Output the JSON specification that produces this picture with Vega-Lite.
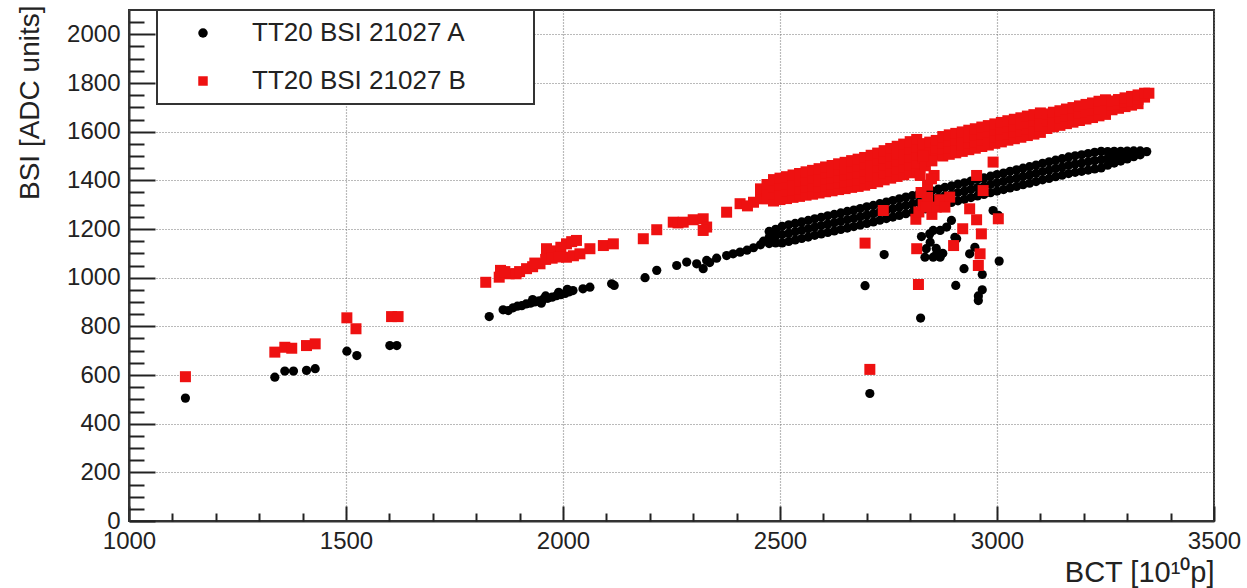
{
"$schema":"https://vega.github.io/schema/vega-lite/v6.json",
"width":1085,"height":511,"autosize":"none",
"padding":{"left":129,"top":10,"right":33,"bottom":67},
"background":"white",
"config":{"view":{"stroke":"#333","strokeWidth":2},"font":"Liberation Sans"},
"datasets":{
"a":[
{"x":1130,"y":505},{"x":1336,"y":591},{"x":1359,"y":616},{"x":1379,"y":616},{"x":1409,"y":619},{"x":1429,"y":626},
{"x":1502,"y":698},{"x":1525,"y":680},{"x":1601,"y":721},{"x":1617,"y":721},
{"x":1830,"y":840},{"x":1862,"y":868},{"x":1874,"y":865},
{"x":1885,"y":876},{"x":1895,"y":883},{"x":1905,"y":885},{"x":1915,"y":892},{"x":1925,"y":895},{"x":1935,"y":900},{"x":1945,"y":905},{"x":1955,"y":912},{"x":1965,"y":915},{"x":1975,"y":920},{"x":1985,"y":926},{"x":1995,"y":930},{"x":2005,"y":935},{"x":2015,"y":942},{"x":2023,"y":947},{"x":1930,"y":910},{"x":1960,"y":925},{"x":1990,"y":940},{"x":2010,"y":952},{"x":1950,"y":895},
{"x":2046,"y":954},{"x":2062,"y":961},{"x":2112,"y":975},{"x":2118,"y":968},{"x":2189,"y":1000},{"x":2216,"y":1030},{"x":2262,"y":1050},{"x":2285,"y":1064},{"x":2308,"y":1057},{"x":2323,"y":1037},{"x":2331,"y":1071},{"x":2338,"y":1062},
{"x":2354,"y":1080},{"x":2377,"y":1091},{"x":2392,"y":1098},{"x":2408,"y":1105},{"x":2424,"y":1113},{"x":2439,"y":1123},{"x":2455,"y":1135},{"x":2462,"y":1150},
{"x":2475,"y":1140},{"x":2475,"y":1165},{"x":2475,"y":1190},
{"x":2490,"y":1143},{"x":2490,"y":1171},{"x":2490,"y":1199},
{"x":2505,"y":1143},{"x":2505,"y":1177},{"x":2505,"y":1211},
{"x":2520,"y":1149},{"x":2520,"y":1183},{"x":2520,"y":1217},
{"x":2535,"y":1155},{"x":2535,"y":1189},{"x":2535,"y":1223},
{"x":2550,"y":1161},{"x":2550,"y":1195},{"x":2550,"y":1229},
{"x":2565,"y":1167},{"x":2565,"y":1201},{"x":2565,"y":1235},
{"x":2580,"y":1174},{"x":2580,"y":1208},{"x":2580,"y":1242},
{"x":2595,"y":1180},{"x":2595,"y":1214},{"x":2595,"y":1248},
{"x":2610,"y":1186},{"x":2610,"y":1220},{"x":2610,"y":1254},
{"x":2625,"y":1192},{"x":2625,"y":1226},{"x":2625,"y":1260},
{"x":2640,"y":1198},{"x":2640,"y":1232},{"x":2640,"y":1266},
{"x":2655,"y":1204},{"x":2655,"y":1238},{"x":2655,"y":1272},
{"x":2670,"y":1210},{"x":2670,"y":1244},{"x":2670,"y":1278},
{"x":2685,"y":1216},{"x":2685,"y":1250},{"x":2685,"y":1284},
{"x":2700,"y":1223},{"x":2700,"y":1257},{"x":2700,"y":1291},
{"x":2715,"y":1229},{"x":2715,"y":1263},{"x":2715,"y":1297},
{"x":2730,"y":1236},{"x":2730,"y":1270},{"x":2730,"y":1304},
{"x":2745,"y":1243},{"x":2745,"y":1277},{"x":2745,"y":1311},
{"x":2760,"y":1249},{"x":2760,"y":1283},{"x":2760,"y":1317},
{"x":2775,"y":1256},{"x":2775,"y":1290},{"x":2775,"y":1324},
{"x":2790,"y":1263},{"x":2790,"y":1297},{"x":2790,"y":1331},
{"x":2805,"y":1269},{"x":2805,"y":1303},{"x":2805,"y":1337},
{"x":2820,"y":1276},{"x":2820,"y":1310},{"x":2820,"y":1344},
{"x":2835,"y":1283},{"x":2835,"y":1317},{"x":2835,"y":1351},
{"x":2850,"y":1289},{"x":2850,"y":1323},{"x":2850,"y":1357},
{"x":2865,"y":1296},{"x":2865,"y":1330},{"x":2865,"y":1364},
{"x":2880,"y":1303},{"x":2880,"y":1337},{"x":2880,"y":1371},
{"x":2895,"y":1309},{"x":2895,"y":1343},{"x":2895,"y":1377},
{"x":2910,"y":1316},{"x":2910,"y":1350},{"x":2910,"y":1384},
{"x":2925,"y":1322},{"x":2925,"y":1356},{"x":2925,"y":1390},
{"x":2940,"y":1329},{"x":2940,"y":1363},{"x":2940,"y":1397},
{"x":2955,"y":1336},{"x":2955,"y":1370},{"x":2955,"y":1404},
{"x":2970,"y":1342},{"x":2970,"y":1376},{"x":2970,"y":1410},
{"x":2985,"y":1349},{"x":2985,"y":1383},{"x":2985,"y":1417},
{"x":3000,"y":1356},{"x":3000,"y":1390},{"x":3000,"y":1424},
{"x":3015,"y":1362},{"x":3015,"y":1396},{"x":3015,"y":1430},
{"x":3030,"y":1369},{"x":3030,"y":1403},{"x":3030,"y":1437},
{"x":3045,"y":1375},{"x":3045,"y":1409},{"x":3045,"y":1443},
{"x":3060,"y":1382},{"x":3060,"y":1416},{"x":3060,"y":1450},
{"x":3075,"y":1388},{"x":3075,"y":1422},{"x":3075,"y":1456},
{"x":3090,"y":1395},{"x":3090,"y":1429},{"x":3090,"y":1463},
{"x":3105,"y":1402},{"x":3105,"y":1436},{"x":3105,"y":1470},
{"x":3120,"y":1408},{"x":3120,"y":1442},{"x":3120,"y":1476},
{"x":3135,"y":1415},{"x":3135,"y":1449},{"x":3135,"y":1483},
{"x":3150,"y":1421},{"x":3150,"y":1455},{"x":3150,"y":1489},
{"x":3165,"y":1428},{"x":3165,"y":1462},{"x":3165,"y":1496},
{"x":3180,"y":1433},{"x":3180,"y":1467},{"x":3180,"y":1501},
{"x":3195,"y":1437},{"x":3195,"y":1471},{"x":3195,"y":1505},
{"x":3210,"y":1442},{"x":3210,"y":1476},{"x":3210,"y":1510},
{"x":3225,"y":1447},{"x":3225,"y":1481},{"x":3225,"y":1515},
{"x":3240,"y":1451},{"x":3240,"y":1485},{"x":3240,"y":1519},
{"x":3255,"y":1462},{"x":3255,"y":1490},{"x":3255,"y":1518},
{"x":3270,"y":1471},{"x":3270,"y":1495},{"x":3270,"y":1519},
{"x":3285,"y":1479},{"x":3285,"y":1499},{"x":3285,"y":1519},
{"x":3300,"y":1488},{"x":3300,"y":1504},{"x":3300,"y":1520},
{"x":3315,"y":1497},{"x":3315,"y":1509},{"x":3315,"y":1521},
{"x":3330,"y":1505},{"x":3330,"y":1521},
{"x":3345,"y":1518},
{"x":2696,"y":967},{"x":2740,"y":1095},{"x":2707,"y":524},{"x":2824,"y":834},{"x":2905,"y":968},{"x":2924,"y":1037},{"x":2966,"y":950},{"x":2957,"y":906},{"x":3005,"y":1068},{"x":2966,"y":1013},{"x":2937,"y":1098},{"x":2853,"y":1194},{"x":2826,"y":1169},{"x":2837,"y":1119},{"x":2853,"y":1084},{"x":2884,"y":1208},{"x":2907,"y":1160},{"x":2991,"y":1276},{"x":3003,"y":1256},{"x":2869,"y":1084},{"x":2846,"y":1146},{"x":2861,"y":1098},{"x":2869,"y":1194},{"x":2903,"y":1166},{"x":2949,"y":1125},{"x":2834,"y":1084},{"x":2845,"y":1180},{"x":2860,"y":1120},{"x":2875,"y":1100},{"x":2895,"y":1235},{"x":2957,"y":925}
],
"b":[
{"x":1130,"y":593},{"x":1336,"y":694},{"x":1359,"y":714},{"x":1375,"y":710},{"x":1409,"y":721},{"x":1429,"y":728},
{"x":1502,"y":835},{"x":1523,"y":790},{"x":1605,"y":840},{"x":1620,"y":840},
{"x":1822,"y":981},{"x":1856,"y":1030},{"x":1876,"y":1016},{"x":1892,"y":1016},{"x":1853,"y":1002},{"x":1866,"y":1025},{"x":1900,"y":1025},{"x":1916,"y":1037},{"x":1930,"y":1045},{"x":1947,"y":1057},{"x":1962,"y":1119},{"x":1975,"y":1110},{"x":1985,"y":1105},{"x":1995,"y":1125},{"x":2008,"y":1139},{"x":2020,"y":1148},{"x":2031,"y":1153},{"x":1935,"y":1060},{"x":1960,"y":1075},{"x":1975,"y":1080},{"x":1990,"y":1085},{"x":2008,"y":1084},{"x":2024,"y":1090},{"x":2039,"y":1098},{"x":2062,"y":1119},{"x":2093,"y":1132},{"x":2116,"y":1139},{"x":2185,"y":1160},{"x":2216,"y":1197},{"x":2254,"y":1228},{"x":2265,"y":1225},{"x":2277,"y":1228},{"x":2300,"y":1238},{"x":2323,"y":1242},{"x":2331,"y":1208},{"x":2323,"y":1194},{"x":2377,"y":1269},{"x":2408,"y":1304},{"x":2439,"y":1310},{"x":2425,"y":1295},{"x":2462,"y":1324},
{"x":2455,"y":1330},{"x":2455,"y":1365},
{"x":2470,"y":1325},{"x":2470,"y":1354},{"x":2470,"y":1383},
{"x":2485,"y":1315},{"x":2485,"y":1344},{"x":2485,"y":1374},{"x":2485,"y":1403},
{"x":2500,"y":1321},{"x":2500,"y":1350},{"x":2500,"y":1380},{"x":2500,"y":1409},
{"x":2515,"y":1325},{"x":2515,"y":1355},{"x":2515,"y":1385},{"x":2515,"y":1415},
{"x":2530,"y":1330},{"x":2530,"y":1361},{"x":2530,"y":1391},{"x":2530,"y":1422},
{"x":2545,"y":1334},{"x":2545,"y":1365},{"x":2545,"y":1397},{"x":2545,"y":1428},
{"x":2560,"y":1339},{"x":2560,"y":1371},{"x":2560,"y":1403},{"x":2560,"y":1435},
{"x":2575,"y":1343},{"x":2575,"y":1376},{"x":2575,"y":1408},{"x":2575,"y":1441},
{"x":2590,"y":1348},{"x":2590,"y":1373},{"x":2590,"y":1398},{"x":2590,"y":1423},{"x":2590,"y":1448},
{"x":2605,"y":1353},{"x":2605,"y":1378},{"x":2605,"y":1404},{"x":2605,"y":1430},{"x":2605,"y":1455},
{"x":2620,"y":1357},{"x":2620,"y":1383},{"x":2620,"y":1409},{"x":2620,"y":1435},{"x":2620,"y":1461},
{"x":2635,"y":1362},{"x":2635,"y":1388},{"x":2635,"y":1415},{"x":2635,"y":1442},{"x":2635,"y":1468},
{"x":2650,"y":1366},{"x":2650,"y":1393},{"x":2650,"y":1420},{"x":2650,"y":1447},{"x":2650,"y":1474},
{"x":2665,"y":1371},{"x":2665,"y":1398},{"x":2665,"y":1426},{"x":2665,"y":1454},{"x":2665,"y":1481},
{"x":2680,"y":1375},{"x":2680,"y":1403},{"x":2680,"y":1431},{"x":2680,"y":1459},{"x":2680,"y":1487},
{"x":2695,"y":1380},{"x":2695,"y":1408},{"x":2695,"y":1437},{"x":2695,"y":1466},{"x":2695,"y":1494},
{"x":2710,"y":1387},{"x":2710,"y":1416},{"x":2710,"y":1445},{"x":2710,"y":1474},{"x":2710,"y":1503},
{"x":2725,"y":1394},{"x":2725,"y":1423},{"x":2725,"y":1453},{"x":2725,"y":1483},{"x":2725,"y":1512},
{"x":2740,"y":1402},{"x":2740,"y":1432},{"x":2740,"y":1462},{"x":2740,"y":1492},{"x":2740,"y":1522},
{"x":2755,"y":1409},{"x":2755,"y":1439},{"x":2755,"y":1470},{"x":2755,"y":1500},{"x":2755,"y":1531},
{"x":2770,"y":1416},{"x":2770,"y":1447},{"x":2770,"y":1478},{"x":2770,"y":1509},{"x":2770,"y":1540},
{"x":2785,"y":1423},{"x":2785,"y":1454},{"x":2785,"y":1486},{"x":2785,"y":1518},{"x":2785,"y":1549},
{"x":2800,"y":1431},{"x":2800,"y":1463},{"x":2800,"y":1495},{"x":2800,"y":1527},{"x":2800,"y":1559},
{"x":2815,"y":1438},{"x":2815,"y":1470},{"x":2815,"y":1503},{"x":2815,"y":1536},{"x":2815,"y":1568},
{"x":2830,"y":1491},{"x":2830,"y":1521},{"x":2830,"y":1551},
{"x":2845,"y":1497},{"x":2845,"y":1527},{"x":2845,"y":1557},
{"x":2860,"y":1504},{"x":2860,"y":1534},{"x":2860,"y":1564},
{"x":2875,"y":1500},{"x":2875,"y":1527},{"x":2875,"y":1553},{"x":2875,"y":1580},
{"x":2890,"y":1507},{"x":2890,"y":1534},{"x":2890,"y":1560},{"x":2890,"y":1587},
{"x":2905,"y":1513},{"x":2905,"y":1540},{"x":2905,"y":1566},{"x":2905,"y":1593},
{"x":2920,"y":1519},{"x":2920,"y":1546},{"x":2920,"y":1572},{"x":2920,"y":1599},
{"x":2935,"y":1526},{"x":2935,"y":1553},{"x":2935,"y":1579},{"x":2935,"y":1606},
{"x":2950,"y":1532},{"x":2950,"y":1559},{"x":2950,"y":1585},{"x":2950,"y":1612},
{"x":2965,"y":1539},{"x":2965,"y":1566},{"x":2965,"y":1592},{"x":2965,"y":1619},
{"x":2980,"y":1545},{"x":2980,"y":1572},{"x":2980,"y":1598},{"x":2980,"y":1625},
{"x":2995,"y":1552},{"x":2995,"y":1579},{"x":2995,"y":1605},{"x":2995,"y":1632},
{"x":3010,"y":1558},{"x":3010,"y":1585},{"x":3010,"y":1611},{"x":3010,"y":1638},
{"x":3025,"y":1565},{"x":3025,"y":1592},{"x":3025,"y":1618},{"x":3025,"y":1645},
{"x":3040,"y":1571},{"x":3040,"y":1598},{"x":3040,"y":1624},{"x":3040,"y":1651},
{"x":3055,"y":1577},{"x":3055,"y":1604},{"x":3055,"y":1630},{"x":3055,"y":1657},
{"x":3070,"y":1584},{"x":3070,"y":1611},{"x":3070,"y":1637},{"x":3070,"y":1664},
{"x":3085,"y":1590},{"x":3085,"y":1617},{"x":3085,"y":1643},{"x":3085,"y":1670},
{"x":3100,"y":1597},{"x":3100,"y":1624},{"x":3100,"y":1650},{"x":3100,"y":1677},
{"x":3115,"y":1613},{"x":3115,"y":1643},{"x":3115,"y":1673},
{"x":3130,"y":1620},{"x":3130,"y":1650},{"x":3130,"y":1680},
{"x":3145,"y":1626},{"x":3145,"y":1656},{"x":3145,"y":1686},
{"x":3160,"y":1633},{"x":3160,"y":1663},{"x":3160,"y":1693},
{"x":3175,"y":1639},{"x":3175,"y":1669},{"x":3175,"y":1699},
{"x":3190,"y":1646},{"x":3190,"y":1676},{"x":3190,"y":1706},
{"x":3205,"y":1652},{"x":3205,"y":1682},{"x":3205,"y":1712},
{"x":3220,"y":1658},{"x":3220,"y":1688},{"x":3220,"y":1718},
{"x":3235,"y":1665},{"x":3235,"y":1695},{"x":3235,"y":1725},
{"x":3250,"y":1671},{"x":3250,"y":1701},{"x":3250,"y":1731},
{"x":3265,"y":1690},{"x":3265,"y":1708},{"x":3265,"y":1726},
{"x":3280,"y":1696},{"x":3280,"y":1714},{"x":3280,"y":1732},
{"x":3295,"y":1703},{"x":3295,"y":1721},{"x":3295,"y":1739},
{"x":3310,"y":1709},{"x":3310,"y":1727},{"x":3310,"y":1745},
{"x":3325,"y":1715},{"x":3325,"y":1733},{"x":3325,"y":1751},
{"x":3340,"y":1742},{"x":3340,"y":1758},{"x":3350,"y":1758},
{"x":2813,"y":1240},{"x":2820,"y":1270},{"x":2830,"y":1300},{"x":2840,"y":1330},{"x":2850,"y":1260},{"x":2860,"y":1290},{"x":2868,"y":1320},{"x":2825,"y":1350},{"x":2840,"y":1380},{"x":2855,"y":1420},{"x":2823,"y":1420},{"x":2849,"y":1406},{"x":2835,"y":1460},{"x":2850,"y":1480},{"x":2830,"y":1500},
{"x":2738,"y":1276},{"x":2696,"y":1142},{"x":2819,"y":972},{"x":2815,"y":1119},{"x":2900,"y":1132},{"x":2921,"y":1201},{"x":2953,"y":1238},{"x":2964,"y":1180},{"x":2961,"y":1098},{"x":2957,"y":1050},{"x":3003,"y":1242},{"x":2968,"y":1358},{"x":2953,"y":1420},{"x":2991,"y":1475},{"x":2837,"y":1290},{"x":2891,"y":1331},{"x":2937,"y":1283},{"x":2707,"y":623},{"x":2880,"y":1290}
]
},
"layer":[
{"data":{"name":"a"},
 "mark":{"type":"point","filled":true,"size":85,"opacity":1,"strokeWidth":0},
 "encoding":{
  "x":{"field":"x","type":"quantitative","scale":{"domain":[1000,3500],"nice":false,"zero":false},
    "axis":{"orient":"bottom","values":[1000,1500,2000,2500,3000,3500],"format":"d","title":"BCT [10¹⁰p]","grid":true,"gridColor":"#777","gridDash":[1,2],"gridWidth":1.2,"domainColor":"#333","domainWidth":2,"tickColor":"#222","tickWidth":2,"tickSize":-15,"labelFontSize":24,"labelColor":"#222","labelPadding":23,"labelFlush":false,"labelOverlap":false,"titleFontSize":29,"titleFontWeight":"normal","titleColor":"#222","titleAnchor":"end","titleAlign":"right","titleBaseline":"alphabetic","titleX":1085,"titleY":60}},
  "y":{"field":"y","type":"quantitative","scale":{"domain":[0,2100],"nice":false,"zero":false},
    "axis":{"orient":"left","values":[0,200,400,600,800,1000,1200,1400,1600,1800,2000],"format":"d","title":"BSI [ADC units]","grid":true,"gridColor":"#777","gridDash":[1,2],"gridWidth":1.2,"domainColor":"#333","domainWidth":2,"tickColor":"#222","tickWidth":2,"tickSize":-26,"labelFontSize":24,"labelColor":"#222","labelPadding":35,"labelFlush":false,"labelOverlap":false,"titleFontSize":28,"titleFontWeight":"normal","titleColor":"#222","titleAngle":270,"titleAlign":"right","titleBaseline":"middle","titleX":-99,"titleY":-5}},
  "color":{"datum":"TT20 BSI 21027 A","type":"nominal","scale":{"domain":["TT20 BSI 21027 A","TT20 BSI 21027 B"],"range":["#000000","#ee1111"]},
    "legend":{"title":null,"orient":"none","legendX":28,"legendY":0,"padding":10,"rowPadding":22,"symbolOffset":23,"labelOffset":36,"labelFontSize":26,"labelColor":"#222","labelLimit":600,"symbolSize":90,"symbolOpacity":1,"symbolStrokeWidth":0,"strokeColor":"#333","fillColor":"white","labelExpr":"datum.label + '\u00a0\u00a0\u00a0\u00a0\u00a0\u00a0\u00a0\u00a0\u200b'","encode":{"legend":{"update":{"strokeWidth":{"value":2}}}}}},
  "shape":{"datum":"TT20 BSI 21027 A","type":"nominal","scale":{"domain":["TT20 BSI 21027 A","TT20 BSI 21027 B"],"range":["circle","square"]},
    "legend":{"title":null,"orient":"none","legendX":28,"legendY":0,"padding":10,"rowPadding":22,"symbolOffset":23,"labelOffset":36,"labelFontSize":26,"labelColor":"#222","labelLimit":600,"symbolSize":90,"symbolOpacity":1,"symbolStrokeWidth":0,"strokeColor":"#333","fillColor":"white","labelExpr":"datum.label + '\u00a0\u00a0\u00a0\u00a0\u00a0\u00a0\u00a0\u00a0\u200b'","encode":{"legend":{"update":{"strokeWidth":{"value":2}}}}}}
 }},
{"data":{"name":"b"},
 "mark":{"type":"point","filled":true,"size":121,"opacity":1,"strokeWidth":0},
 "encoding":{
  "x":{"field":"x","type":"quantitative",
    "axis":{"orient":"bottom","values":[1100,1200,1300,1400,1600,1700,1800,1900,2100,2200,2300,2400,2600,2700,2800,2900,3100,3200,3300,3400],"title":null,"labels":false,"grid":false,"domain":false,"tickColor":"#222","tickWidth":2,"tickSize":-8}},
  "y":{"field":"y","type":"quantitative",
    "axis":{"orient":"left","values":[50,100,150,250,300,350,450,500,550,650,700,750,850,900,950,1050,1100,1150,1250,1300,1350,1450,1500,1550,1650,1700,1750,1850,1900,1950,2050],"title":null,"labels":false,"grid":false,"domain":false,"tickColor":"#222","tickWidth":2,"tickSize":-15}},
  "color":{"datum":"TT20 BSI 21027 B","type":"nominal"},
  "shape":{"datum":"TT20 BSI 21027 B","type":"nominal"}
 }}
],
"resolve":{"axis":{"x":"independent","y":"independent"}}
}
